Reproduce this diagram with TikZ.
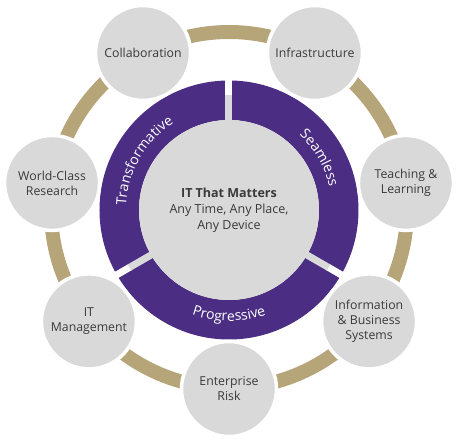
\documentclass[tikz,border=0pt]{standalone}
\usepackage{fontspec}
\setmainfont{Open Sans}
\usetikzlibrary{decorations.text}

\definecolor{uwpurple}{HTML}{4B2E83}
\definecolor{uwgold}{HTML}{B7A57A}
\definecolor{discgray}{HTML}{D9D9D9}
\definecolor{labelgray}{HTML}{3A3A3A}

\newcommand{\segfont}{\fontsize{14}{16}\selectfont}

\tikzset{
    topic/.style={circle, fill=discgray, draw=white, line width=3.5pt, minimum size=95pt, inner sep=0pt, align=center, text=labelgray, font=\fontsize{12.3}{15}\selectfont},
    gapline/.style={line width=7pt},
    segtext/.style={decorate, decoration={text along path, text align=center, text color=white, text={|\segfont|#1}}}
}

\begin{document}
\begin{tikzpicture}[x=1pt, y=1pt]
                \useasboundingbox (-229, -234) rectangle (227, 210);

                \draw[uwgold, line width=14pt] (0, 0) circle (178);

                \fill[uwpurple, even odd rule] (0, 0) circle (129.5) (0, 0) circle (90);

                \fill[discgray] (0, 0) circle (90);

                \draw[white, gapline] (90:114) -- (90:132);
                \draw[discgray, gapline] (90:88) -- (90:115);

                \draw[white, gapline] (210:114) -- (210:132);
                \draw[discgray, gapline] (210:88) -- (210:115);

                \draw[white, gapline] (330:114) -- (330:132);
                \draw[discgray, gapline] (330:88) -- (330:115);

                \path[segtext=Transformative] (205:103) arc[start angle=205, end angle=95, radius=103];

                \path[segtext=Seamless] (85:103) arc[start angle=85, end angle=-25, radius=103];

                \path[segtext=Progressive] (215:111) arc[start angle=215, end angle=325, radius=111];

                \node[topic] (risk) at (270:179) {Enterprise\\Risk};

                \node[topic] (info) at (321.5:179) {Information\\\& Business\\Systems};

                \node[topic] (teach) at (8.7:179) {Teaching \&\\Learning};

                \node[topic] (infra) at (61.3:179) {Infrastructure};

                \node[topic] (collab) at (118.7:179) {Collaboration};

                \node[topic] (research) at (171.3:179) {World-Class\\Research};

                \node[topic] (itmgmt) at (218.5:179) {IT\\Management};

                \node[align=center, text=labelgray, font=\fontsize{12.5}{16}\selectfont] (core) at (0, 0) {\textbf{IT That Matters}\\Any Time, Any Place,\\Any Device};
            \end{tikzpicture}
\end{document}
